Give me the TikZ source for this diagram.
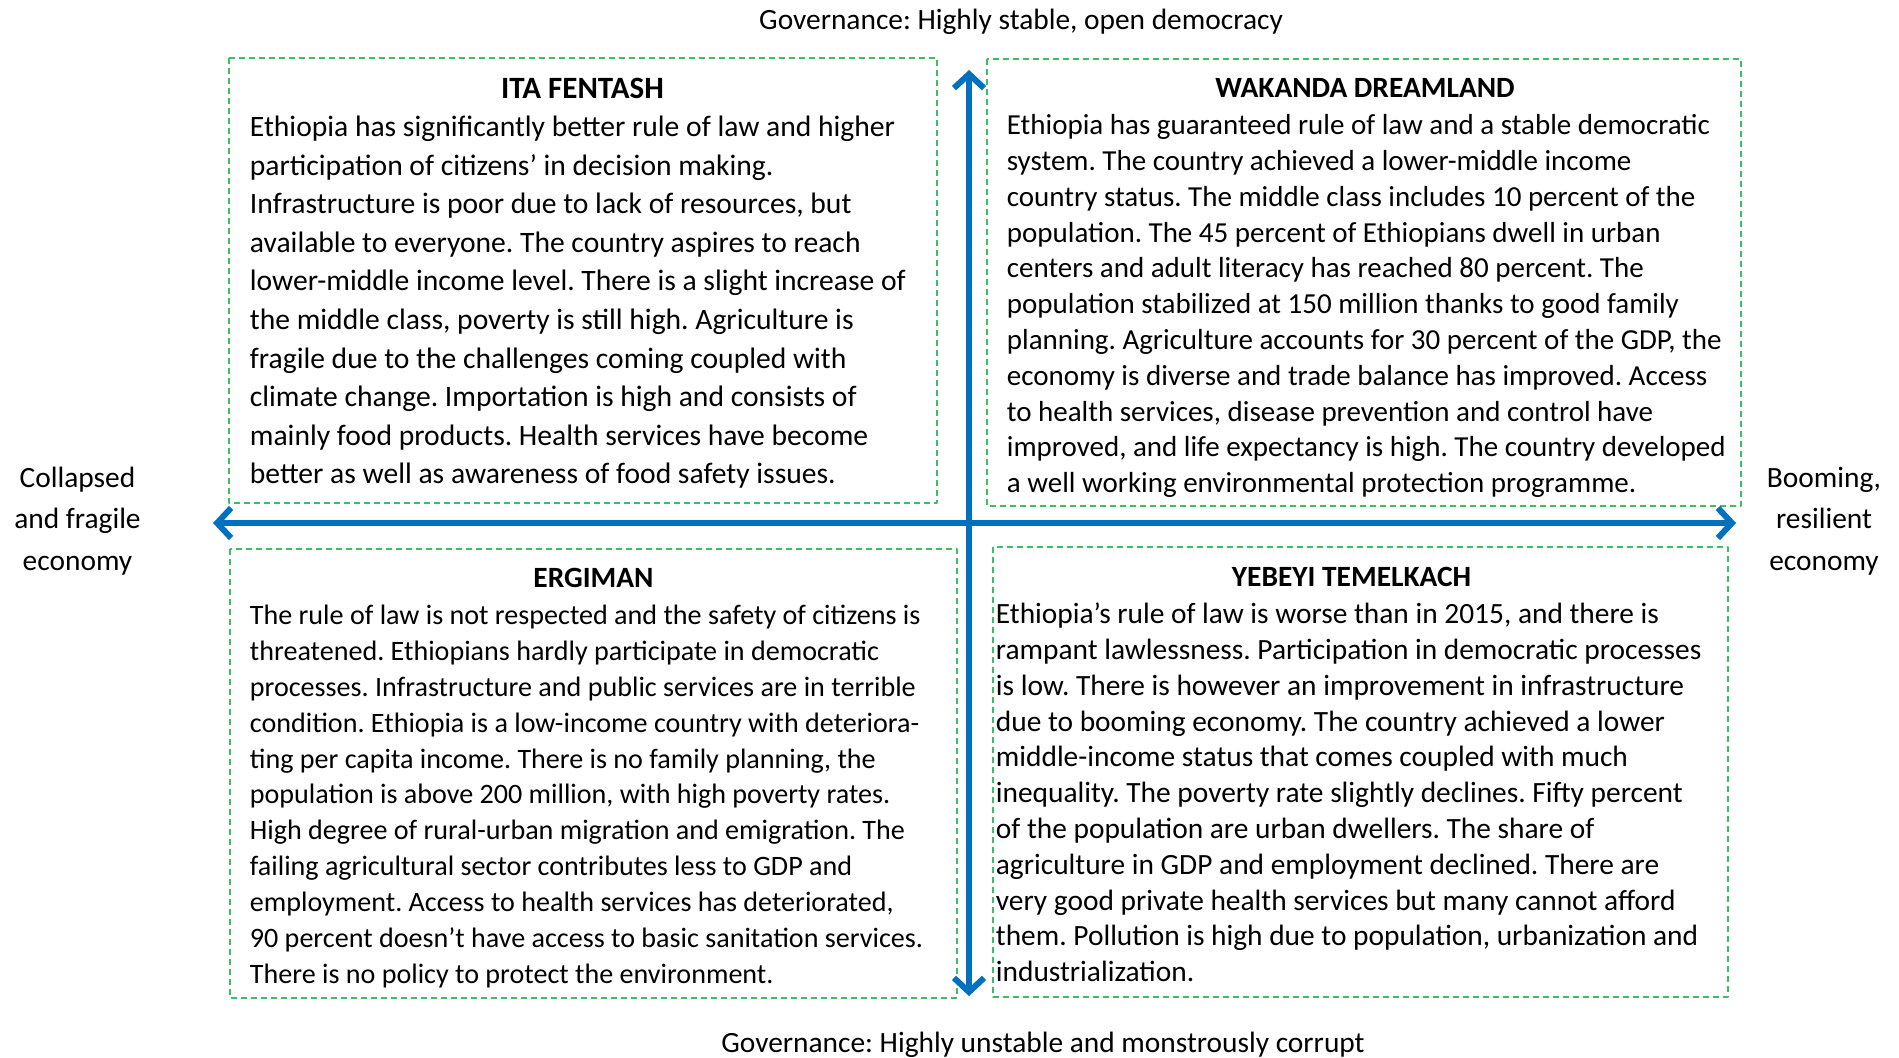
\documentclass[tikz,border=0pt]{standalone}
\usepackage{fontspec}
\setmainfont{Carlito}
\usetikzlibrary{arrows.meta}
\frenchspacing

\definecolor{axisblue}{RGB}{0,112,192}
\definecolor{boxgreen}{RGB}{60,190,100}

\begin{document}
\begin{tikzpicture}[x=0.5pt, y=-0.5pt, line cap=round, line join=round,
  axis/.style={axisblue, line width=3pt, {Straight Barb[length=7pt,width=15pt]}-{Straight Barb[length=7pt,width=15pt]}},
  frame/.style={boxgreen, line width=0.6pt, dash pattern=on 3pt off 2pt, line cap=butt},
  title/.style={font=\fontsize{14.7pt}{16pt}\selectfont\bfseries, inner sep=0pt},
  body/.style={align=left, anchor=north west, inner sep=0pt},
  side/.style={align=center, font=\fontsize{14.7pt}{20.8pt}\selectfont, inner sep=0pt}]
  \useasboundingbox (0,0) rectangle (1899,1057);

  % scenario frames
  \draw[frame] (229,58) rectangle (937,503);
  \draw[frame] (987,59) rectangle (1741,506);
  \draw[frame] (230,549) rectangle (957,998);
  \draw[frame] (993,547) rectangle (1728,997);

  % axes
  \coordinate (west) at (213,523);
  \coordinate (east) at (1736,523);
  \coordinate (north) at (969,70);
  \coordinate (south) at (969,996);
  \draw[axis] (west) -- (east);
  \draw[axis] (south) -- (north);

  % axis labels
  \node[side] (stable) at (1021,21.5) {Governance: Highly stable, open democracy};
  \node[side] (corrupt) at (1043,1044.5) {Governance: Highly unstable and monstrously corrupt};
  \node[side] (collapsed) at (77.5,521) {Collapsed\\and fragile\\economy};
  \node[side] (booming) at (1824,521) {Booming,\\resilient\\economy};

  % upper left
  \node[title, font=\fontsize{15.5pt}{17pt}\selectfont\bfseries] (itatitle) at (582.5,88) {ITA FENTASH};
  \node[body, font=\fontsize{14.8pt}{19.3pt}\selectfont] (ita) at (249.5,115.5) {%
    Ethiopia has significantly better rule of law and higher\\
    participation of citizens’ in decision making.\\
    Infrastructure is poor due to lack of resources, but\\
    available to everyone. The country aspires to reach\\
    lower-middle income level. There is a slight increase of\\
    the middle class, poverty is still high. Agriculture is\\
    fragile due to the challenges coming coupled with\\
    climate change. Importation is high and consists of\\
    mainly food products. Health services have become\\
    better as well as awareness of food safety issues.};

  % upper right
  \node[title] (wakandatitle) at (1365,88) {WAKANDA DREAMLAND};
  \node[body, font=\fontsize{14.5pt}{17.9pt}\selectfont] (wakanda) at (1006.5,114.2) {%
    Ethiopia has guaranteed rule of law and a stable democratic\\
    system. The country achieved a lower-middle income\\
    country status. The middle class includes 10 percent of the\\
    population. The 45 percent of Ethiopians dwell in urban\\
    centers and adult literacy has reached 80 percent. The\\
    population stabilized at 150 million thanks to good family\\
    planning. Agriculture accounts for 30 percent of the GDP, the\\
    economy is diverse and trade balance has improved. Access\\
    to health services, disease prevention and control have\\
    improved, and life expectancy is high. The country developed\\
    a well working environmental protection programme.};

  % lower left
  \node[title] (ergimantitle) at (593.5,578) {ERGIMAN};
  \node[body, font=\fontsize{14.05pt}{17.95pt}\selectfont] (ergiman) at (249.5,604.5) {%
    The rule of law is not respected and the safety of citizens is\\
    threatened. Ethiopians hardly participate in democratic\\
    processes. Infrastructure and public services are in terrible\\
    condition. Ethiopia is a low-income country with deteriora-\\
    ting per capita income. There is no family planning, the\\
    population is above 200 million, with high poverty rates.\\
    High degree of rural-urban migration and emigration. The\\
    failing agricultural sector contributes less to GDP and\\
    employment. Access to health services has deteriorated,\\
    90 percent doesn’t have access to basic sanitation services.\\
    There is no policy to protect the environment.};

  % lower right
  \node[title] (yebeyititle) at (1351.5,577) {YEBEYI TEMELKACH};
  \node[body, font=\fontsize{14.7pt}{17.9pt}\selectfont] (yebeyi) at (995.5,602.5) {%
    Ethiopia’s rule of law is worse than in 2015, and there is\\
    rampant lawlessness. Participation in democratic processes\\
    is low. There is however an improvement in infrastructure\\
    due to booming economy. The country achieved a lower\\
    middle-income status that comes coupled with much\\
    inequality. The poverty rate slightly declines. Fifty percent\\
    of the population are urban dwellers. The share of\\
    agriculture in GDP and employment declined. There are\\
    very good private health services but many cannot afford\\
    them. Pollution is high due to population, urbanization and\\
    industrialization.};
\end{tikzpicture}
\end{document}
